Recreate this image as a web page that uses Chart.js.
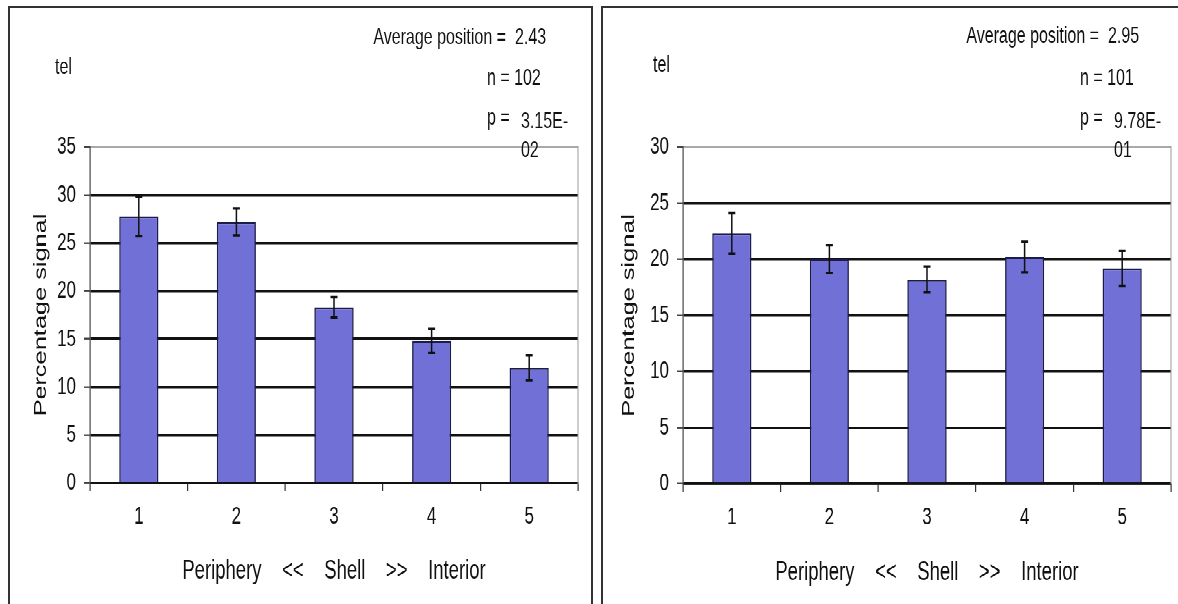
<!DOCTYPE html>
<html>
<head>
<meta charset="utf-8">
<title>tel - percentage signal by nuclear shell</title>
<script src="https://cdn.jsdelivr.net/npm/chart.js@4.4.1/dist/chart.umd.min.js"></script>
<style>
  html, body { margin: 0; padding: 0; background: #fff; }
  body { width: 1178px; height: 604px; position: relative; overflow: hidden; }
  .panel { position: absolute; top: 6px; height: 700px; border: 2px solid #333; box-sizing: border-box; }
  #panelLeft { left: 8px; width: 585px; }
  #panelRight { left: 601px; width: 700px; }
  /* the source figure is a scan stretched vertically; draw at natural size and stretch the same way */
  #stage { position: absolute; left: 0; top: 0; width: 1178px; height: 417px; transform: scaleY(1.4484); transform-origin: 0 0; }
  canvas { position: absolute; top: 0; }
  #chartLeft { left: 0; }
  #chartRight { left: 593px; }
</style>
</head>
<body>
<div class="panel" id="panelLeft"></div>
<div class="panel" id="panelRight"></div>
<div id="stage">
  <canvas id="chartLeft" width="593" height="417"></canvas>
  <canvas id="chartRight" width="585" height="417"></canvas>
</div>
<script>
const categories = ["1", "2", "3", "4", "5"];
const leftValues = [27.8, 27.2, 18.3, 14.8, 12.0];
const leftErrors = [2.05, 1.4, 1.05, 1.25, 1.3];
const rightValues = [22.3, 20.0, 18.2, 20.2, 19.2];
const rightErrors = [1.8, 1.25, 1.15, 1.35, 1.55];
const leftYMax = 35;
const rightYMax = 30;
const yStep = 5;

const cornerLabel = "tel";
const statLabels = ["Average position =", "n =", "p ="];
const leftStats = ["2.43", "102", "3.15E-", "02"];
const rightStats = ["2.95", "101", "9.78E-", "01"];
const xTitle = "Periphery    <<    Shell    >>    Interior";
const yTitle = "Percentage signal";

const SANS = "'Liberation Sans', Arial, sans-serif";
const BAR_FILL = "#7070d6";
const BAR_EDGE = "#1c1c4a";
const INK = "#111";

// error bars drawn on top of the bars, using the chart's own y scale
const errorBars = {
  id: "errorBars",
  afterDatasetsDraw(chart) {
    const ctx = chart.ctx;
    const y = chart.scales.y;
    chart.data.datasets.forEach((ds, i) => {
      chart.getDatasetMeta(i).data.forEach((bar, j) => {
        const top = y.getPixelForValue(ds.data[j] + ds.errors[j]);
        const bot = y.getPixelForValue(ds.data[j] - ds.errors[j]);
        ctx.save();
        ctx.strokeStyle = INK;
        ctx.lineWidth = 1.5;
        ctx.beginPath();
        ctx.moveTo(bar.x, top);
        ctx.lineTo(bar.x, bot);
        ctx.stroke();
        ctx.lineWidth = 1.7;
        ctx.beginPath();
        ctx.moveTo(bar.x - 3.5, top);
        ctx.lineTo(bar.x + 3.5, top);
        ctx.moveTo(bar.x - 3.5, bot);
        ctx.lineTo(bar.x + 3.5, bot);
        ctx.stroke();
        ctx.restore();
      });
    });
  }
};

function makeChart(canvasId, values, errors, yMax, stats, opt) {
  const statText = {
    id: "statText",
    afterDraw(chart) {
      const ctx = chart.ctx;
      const x0 = chart.chartArea.left;
      ctx.save();
      ctx.fillStyle = INK;
      ctx.font = "16px " + SANS;
      ctx.textBaseline = "alphabetic";
      ctx.textAlign = "left";
      ctx.fillText(cornerLabel, x0 + opt.telDx, opt.telY);
      ctx.textAlign = "right";
      ctx.fillText(statLabels[0], x0 + 416, opt.avgY);
      ctx.textAlign = "left";
      ctx.fillText(stats[0], x0 + 425, opt.avgY);
      ctx.fillText(statLabels[1] + " " + stats[1], x0 + 397, 58.6);
      ctx.fillText(statLabels[2], x0 + 397, 86.2);
      ctx.fillText(stats[2], x0 + 431, 88.3);
      ctx.fillText(stats[3], x0 + 431, 108.3);
      ctx.restore();
    }
  };

  return new Chart(document.getElementById(canvasId), {
    type: "bar",
    data: {
      labels: categories,
      datasets: [{
        data: values,
        errors: errors,
        backgroundColor: BAR_FILL,
        borderColor: BAR_EDGE,
        borderWidth: 1.4,
        barPercentage: 0.4,
        categoryPercentage: 1.0,
      }]
    },
    options: {
      responsive: false,
      animation: false,
      devicePixelRatio: 2,
      layout: { padding: { top: 101.5, right: opt.padRight, bottom: 0, left: 0 } },
      plugins: {
        legend: { display: false },
        tooltip: { enabled: false },
      },
      scales: {
        x: {
          offset: true,
          grid: { offset: true, drawOnChartArea: false, color: "#333", lineWidth: 1.2, tickLength: 5.5 },
          border: { color: INK, width: 1.4 },
          ticks: { color: INK, padding: 7.8, font: { family: SANS, size: 17 } },
          title: {
            display: true,
            text: xTitle,
            color: INK,
            font: { family: SANS, size: 18.5 },
            padding: { top: 0, bottom: opt.xTitleGap },
          },
          afterFit: (s) => { s.height = opt.xHeight; },
        },
        y: {
          min: 0,
          max: yMax,
          ticks: { stepSize: yStep, padding: 8, color: INK, font: { family: SANS, size: 17 } },
          grid: {
            color: (c) => (c.tick && c.tick.value === yMax ? "#8c8c8c" : INK),
            lineWidth: (c) => (c.tick && c.tick.value === yMax ? 0.8 : 1.7),
            tickColor: "#444",
            tickWidth: 1.2,
            tickLength: 6,
          },
          border: { color: "#444", width: 1.2 },
          title: {
            display: true,
            text: yTitle,
            color: INK,
            font: { family: SANS, size: 17.5 },
            padding: { top: opt.yTitleGap, bottom: 0 },
          },
          afterFit: (s) => { s.width = 90; },
        },
        yr: {
          position: "right",
          min: 0,
          max: yMax,
          ticks: { display: false },
          grid: { display: false },
          border: { display: true, color: "#9a9a9a", width: 1 },
          afterFit: (s) => { s.width = 0; },
        },
      },
    },
    plugins: [errorBars, statText],
  });
}

makeChart("chartLeft", leftValues, leftErrors, leftYMax, leftStats,
  { padRight: 15, xHeight: 83.5, xTitleGap: 11.7, yTitleGap: 30.5, telDx: -35, telY: 51, avgY: 30.3 });
makeChart("chartRight", rightValues, rightErrors, rightYMax, rightStats,
  { padRight: 7, xHeight: 83, xTitleGap: 10.6, yTitleGap: 25.5, telDx: -30, telY: 49.7, avgY: 29.7 });
</script>
</body>
</html>
